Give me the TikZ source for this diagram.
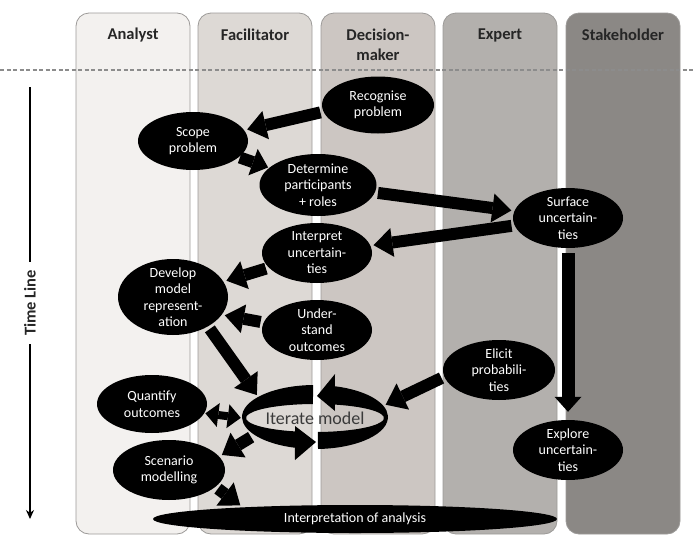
\documentclass[tikz,border=0pt]{standalone}
\usepackage{fontspec}
\setmainfont{Carlito}
\usepackage{xcolor}
\definecolor{lnanalyst}{HTML}{F3F1EF}
\definecolor{lnfacil}{HTML}{DDD9D5}
\definecolor{lndecide}{HTML}{CCC6C2}
\definecolor{lnexpert}{HTML}{B3B0AD}
\definecolor{lnstake}{HTML}{8B8885}
\definecolor{lnedge}{HTML}{9C9A98}
\definecolor{ringtext}{HTML}{3A3A3A}
\usepackage{tikz}
\usetikzlibrary{arrows.meta,shapes.geometric}

\begin{document}
\begin{tikzpicture}[x=1pt,y=1pt,
  lane/.style={draw=lnedge,line width=0.8pt,rounded corners=13pt},
  head/.style={font=\fontsize{16.5}{20}\selectfont\bfseries,text=black!85,align=center},
  task/.style={ellipse,fill=black,text=white,inner sep=-5pt,align=center,
               font=\fontsize{14}{16.5}\selectfont},
  arr/.style={line width=12pt,-{Triangle[length=19pt,width=29pt,line width=0pt]},
              shorten <=3pt,shorten >=3pt},
  dblarr/.style={line width=8pt,shorten <=1pt,shorten >=1pt,
              {Triangle[length=13pt,width=24pt,line width=0pt]}-{Triangle[length=13pt,width=24pt,line width=0pt]}},
  downarr/.style={line width=13pt,-{Triangle[length=15pt,width=27pt,line width=0pt]},
              shorten <=5pt,shorten >=8pt}]
\useasboundingbox (0,0) rectangle (694,-536);
\foreach \xl/\col in {76/lnanalyst,198/lnfacil,321/lndecide,443/lnexpert,566/lnstake}
  \draw[lane,fill=\col] (\xl,-13) rectangle ++(114,-521);
\draw[black!45,line width=2pt,dash pattern=on 4pt off 2.5pt] (0,-70) -- (694,-70);
\node[head] (hanalyst) at (133,-35) {Analyst};
\node[head] (hfacil) at (255,-35) {Facilitator};
\node[head] (hdecide) at (378,-45) {Decision-\\maker};
\node[head] (hexpert) at (500,-35) {Expert};
\node[head] (hstake) at (623,-35) {Stakeholder};
\node[head,rotate=90,inner sep=8pt] (tline) at (30,-303) {Time Line};
\coordinate (ttop) at (30,-87);
\coordinate (tbot) at (30,-519);
\draw[line width=1.6pt] (ttop) -- (tline);
\draw[line width=1.6pt,-{Stealth[length=9pt,width=8pt]}] (tline) -- (tbot);
\node[task,minimum width=112pt,minimum height=57pt] (recognise) at (378,-105) {Recognise\\problem};
\node[task,minimum width=110pt,minimum height=58pt] (scope) at (193,-141) {Scope\\problem};
\node[task,minimum width=117pt,minimum height=62pt] (determine) at (318,-185) {Determine\\participants\\+ roles};
\node[task,minimum width=110pt,minimum height=60pt] (surface) at (568,-218) {Surface\\uncertain-\\ties};
\node[task,minimum width=110pt,minimum height=60pt] (interpret) at (317,-253) {Interpret\\uncertain-\\ties};
\node[task,minimum width=110pt,minimum height=76pt] (develop) at (173,-297) {Develop\\model\\represent-\\ation};
\node[task,minimum width=110pt,minimum height=60pt] (understand) at (317,-330) {Under-\\stand\\outcomes};
\node[task,minimum width=112pt,minimum height=60pt] (elicit) at (499,-370) {Elicit\\probabili-\\ties};
\node[task,minimum width=110pt,minimum height=58pt] (quantify) at (152,-404) {Quantify\\outcomes};
\node[task,minimum width=112pt,minimum height=60pt] (scenario) at (169,-470) {Scenario\\modelling};
\node[task,minimum width=110pt,minimum height=60pt] (explore) at (568,-450) {Explore\\uncertain-\\ties};
\node[task,minimum width=404pt,minimum height=28pt] (interp) at (355,-519) {Interpretation of analysis};
\fill (313,-385) arc[start angle=91.6,end angle=254,x radius=73pt,y radius=32pt]
  -- (295,-460) -- (316,-442) -- (295,-426) -- (295.1,-431.4)
  arc[start angle=253.2,end angle=91.7,x radius=69pt,y radius=14pt] -- cycle;
\fill (318,-449) arc[start angle=-87.6,end angle=74.1,x radius=73pt,y radius=32pt]
  -- (335,-374) -- (317,-396) -- (335,-411) -- (334.9,-404.6)
  arc[start angle=73.2,end angle=-87.5,x radius=69pt,y radius=14pt] -- cycle;
\node[ellipse,minimum width=146pt,minimum height=64pt,inner sep=0pt,text=ringtext,
  font=\fontsize{18}{20}\selectfont] (iterate) at (315,-418) {Iterate model};
\draw[arr] (recognise.187) -- (scope.12);
\draw[arr,shorten <=1pt,shorten >=1pt,-{Triangle[length=16pt,width=28pt,line width=0pt]}] (scope) -- (determine);
\draw[arr] (determine) -- (surface);
\draw[arr] (surface) -- (interpret);
\draw[arr] (interpret) -- (develop);
\draw[arr] (understand.172) -- (develop.-20);
\draw[arr] (develop.-40) -- (iterate.160);
\draw[dblarr] (quantify.-10) -- (iterate.west);
\draw[arr] (iterate.196) -- (scenario.15);
\draw[arr] (scenario.-20) -- (interp.174);
\draw[arr] (elicit.187) -- (iterate.10);
\draw[downarr] (surface) -- (explore);
\end{tikzpicture}
\end{document}
